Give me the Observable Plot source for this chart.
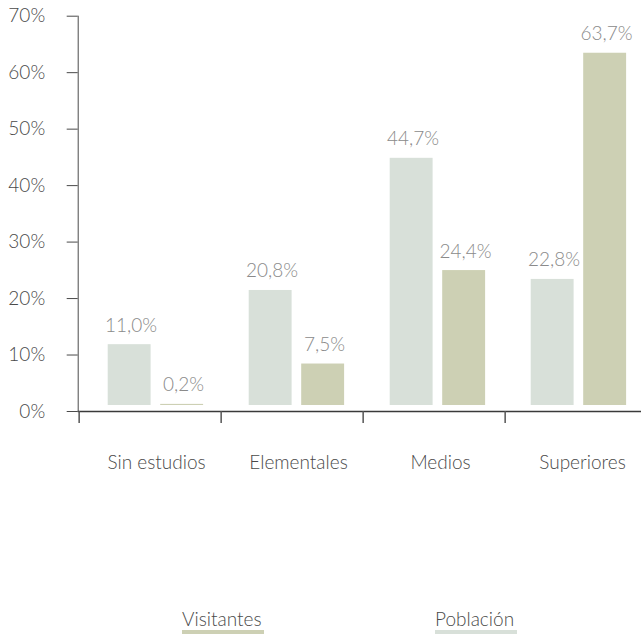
<!DOCTYPE html>
<html>
<head>
<meta charset="utf-8">
<script src="https://cdn.jsdelivr.net/npm/d3@7"></script>
<script src="https://cdn.jsdelivr.net/npm/@observablehq/plot@0.6"></script>
<style>
  html, body { margin: 0; padding: 0; background: #fff; }
  #wrap { position: relative; width: 641px; height: 634px; overflow: hidden; font-family: Lato, sans-serif; }
  #wrap svg { position: absolute; left: 0; top: 0; }
  .legend-item { position: absolute; top: 607px; font-size: 19px; font-weight: 300; color: #4a4a4a; line-height: normal; padding-right: 3px; border-bottom: 5px solid; }
</style>
</head>
<body>
<div id="wrap"></div>
<script>
const categories = ["Sin estudios", "Elementales", "Medios", "Superiores"];
const poblacion = [11.0, 20.8, 44.7, 22.8];
const visitantes = [0.2, 7.5, 24.4, 63.7];
const yTicks = [0, 10, 20, 30, 40, 50, 60, 70];
const seriesNames = ["Visitantes", "Población"];
const seriesColors = ["#cdd0b4", "#d8e0d9"];

const rows = categories.map((c, i) => ({cat: c, pob: poblacion[i], vis: visitantes[i]}));
const fmt = v => v.toFixed(1).replace(".", ",") + "%";
const font = {fontFamily: "Lato, sans-serif", fontSize: "19px", fontWeight: 300};

const H = 600;
const wrap = document.getElementById("wrap");

// bars and value labels
const barsPlot = Plot.plot({
  width: 641, height: H,
  marginTop: 17.9, marginBottom: H - 405, marginLeft: 77, marginRight: 0,
  x: {type: "band", domain: categories, range: [77, 642.6], padding: 0, axis: null},
  y: {domain: [0, 70], axis: null},
  style: {...font, background: "white", overflow: "visible"},
  marks: [
    Plot.barY(rows, {x: "cat", y: "pob", fill: seriesColors[1], insetLeft: 29.7, insetRight: 68.4}),
    Plot.barY(rows, {x: "cat", y: "vis", fill: seriesColors[0], insetLeft: 82.2, insetRight: 15.9}),
    Plot.text(rows, {x: "cat", y: "pob", text: d => fmt(d.pob), dx: -18, dy: -13, lineAnchor: "bottom", fill: "#8a8a8a"}),
    Plot.text(rows, {x: "cat", y: "vis", text: d => fmt(d.vis), dx: 34.5, dy: -13, lineAnchor: "bottom", fill: "#8a8a8a"})
  ]
});
wrap.appendChild(barsPlot);

// axes
const axesPlot = Plot.plot({
  width: 641, height: H,
  marginTop: 15.7, marginBottom: H - 411, marginLeft: 77.7, marginRight: 0,
  x: {type: "band", domain: categories, range: [77.7, 648.5], padding: 0, axis: null},
  y: {domain: [0, 70], ticks: yTicks, tickSize: 11, tickPadding: 22, tickFormat: d => d + "%", label: null, line: true},
  style: {...font, background: "transparent", color: "#4a4a4a", overflow: "visible"},
  marks: [
    Plot.ruleY([0], {stroke: "#3a3a3a", strokeWidth: 1.5}),
    Plot.ruleX(categories, {x: d => d, y1: 0, y2: -2.12, dx: -71.35, stroke: "#555", strokeWidth: 1.5}),
    Plot.text(categories, {x: d => d, y: 0, dy: 51, dx: 6, text: d => d, fill: "#4a4a4a"})
  ]
});
wrap.appendChild(axesPlot);

// legend
seriesNames.forEach((name, i) => {
  const el = document.createElement("div");
  el.className = "legend-item";
  el.textContent = name;
  el.style.left = (i === 0 ? 182 : 435) + "px";
  el.style.borderBottomColor = seriesColors[i];
  wrap.appendChild(el);
});
</script>
</body>
</html>
